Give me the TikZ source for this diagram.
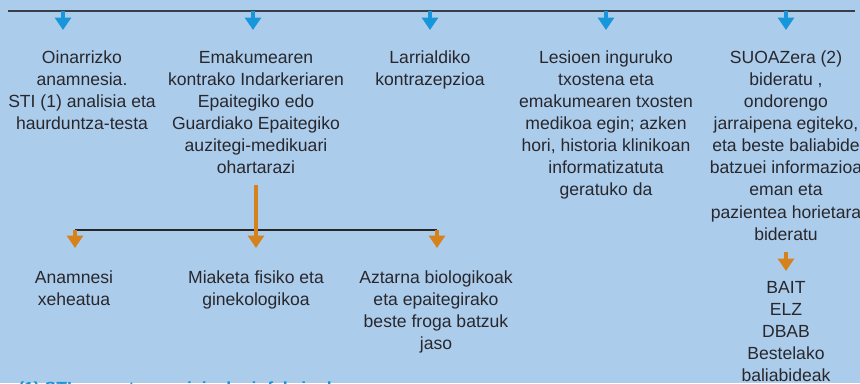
\documentclass[tikz,border=0pt]{standalone}
\usepackage{fontspec}
\setmainfont{Liberation Sans}
\usetikzlibrary{arrows.meta}
\usetikzlibrary{positioning}
\definecolor{bgblue}{RGB}{172,204,236}
\definecolor{arrblue}{RGB}{24,150,218}
\definecolor{arrorange}{RGB}{214,130,28}
\definecolor{txtgray}{RGB}{40,40,44}
\definecolor{busgray}{RGB}{58,62,72}
\tikzset{
	txt/.style={anchor=north,align=center,inner sep=0pt,text=txtgray,font=\fontsize{10}{12.6}\selectfont},
	barrow/.style={draw=arrblue,line width=2.8pt,-{Triangle[width=0.32cm,length=0.25cm]}},
	oarrow/.style={draw=arrorange,line width=2.8pt,-{Triangle[width=0.32cm,length=0.25cm]}},
	bus/.style={draw=busgray,line width=1.1pt},
	subbus/.style={draw=black!85,line width=0.8pt}
}
\begin{document}
\begin{tikzpicture}[x=0.02cm,y=-0.02cm]
	\fill[bgblue] (0,0) rectangle (860,383);
	\useasboundingbox (0,0) rectangle (860,383);
	\clip (0,0) rectangle (860,383);
	\coordinate (busL) at (8,11);
	\coordinate (busR) at (855,11);
	\draw[bus] (busL) -- (busR);
	\foreach \i/\x in {1/63,2/253,3/430,4/606,5/786} {
		\coordinate (b\i) at (\x,11);
		\coordinate (e\i) at (\x,30);
		\draw[barrow] (b\i) -- (e\i);
	}
	\node[txt] (t1) at (82,50) {Oinarrizko\\anamnesia.\\STI (1) analisia eta\\haurduntza-testa};
	\node[txt] (t2) at (256,50) {Emakumearen\\kontrako Indarkeriaren\\Epaitegiko edo\\Guardiako Epaitegiko\\auzitegi-medikuari\\ohartarazi};
	\node[txt] (t3) at (430,50) {Larrialdiko\\kontrazepzioa};
	\node[txt] (t4) at (606,50) {Lesioen inguruko\\txostena eta\\emakumearen txosten\\medikoa egin; azken\\hori, historia klinikoan\\informatizatuta\\geratuko da};
	\node[txt] (t5) at (786,50) {SUOAZera (2)\\bideratu ,\\ondorengo\\jarraipena egiteko,\\eta beste baliabide\\batzuei informazioa\\eman eta\\pazientea horietara\\bideratu};
	% orange branch
	\coordinate (o0) at (256,185);
	\coordinate (o2) at (256,248);
	\coordinate (jl) at (75,230);
	\coordinate (jr) at (437,230);
	\draw[subbus] (jl) -- (jr);
	\draw[oarrow] (jl) -- ++(0,18) coordinate (o1);
	\draw[oarrow] (jr) -- ++(0,18) coordinate (o3);
	\draw[oarrow] (o0) -- (o2);
	\node[txt] (s1) at (74,270) {Anamnesi\\xeheatua};
	\node[txt] (s2) at (256,270) {Miaketa fisiko eta\\ginekologikoa};
	\node[txt] (s3) at (436,270) {Aztarna biologikoak\\eta epaitegirako\\beste froga batzuk\\jaso};
	\coordinate (o4) at (786,252);
	\coordinate (o5) at (786,271);
	\draw[oarrow] (o4) -- (o5);
	\node[txt] (l5) at (786,281) {BAIT\\ELZ\\DBAB\\Bestelako\\baliabideak};
	\node[txt,anchor=north west,text=arrblue,font=\fontsize{10}{12.6}\selectfont\bfseries] (fn) at (18,381.5) {(1) STI: sexu-transmisiozko infekzioak};
\end{tikzpicture}
\end{document}
